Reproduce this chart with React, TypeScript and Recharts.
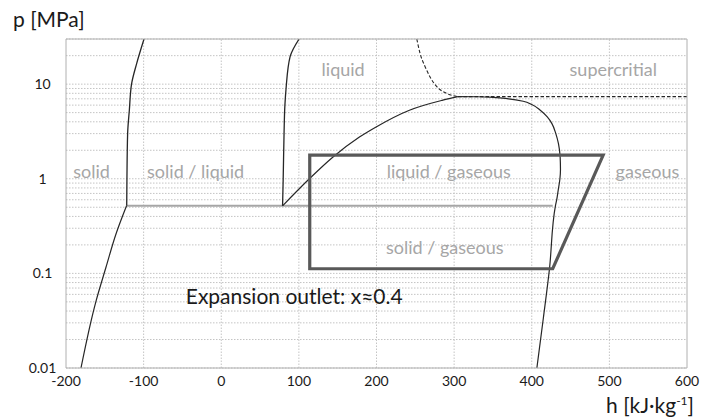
import { LineChart, Line, XAxis, YAxis, CartesianGrid, ReferenceLine, ReferenceDot } from 'recharts'

// h [kJ/kg] vs p [MPa]
const sublimationSolid = [
  { h: -180.7, p: 0.01 },
  { h: -161.3, p: 0.051 },
  { h: -148.5, p: 0.116 },
  { h: -135.6, p: 0.261 },
  { h: -122, p: 0.518 },
]

const meltingSolid = [
  { h: -121.8, p: 0.518 },
  { h: -121.5, p: 1 },
  { h: -120.6, p: 3 },
  { h: -118.4, p: 5.3 },
  { h: -115.4, p: 10.2 },
  { h: -108.9, p: 16.6 },
  { h: -99.5, p: 30 },
]

const meltingLiquid = [
  { h: 79, p: 0.518 },
  { h: 79.8, p: 1 },
  { h: 80.9, p: 3 },
  { h: 82, p: 6 },
  { h: 83.5, p: 9 },
  { h: 88.7, p: 19.5 },
  { h: 100.3, p: 30 },
]

const satLiquid = [
  { h: 79, p: 0.518 },
  { h: 113.5, p: 1.0 },
  { h: 143.6, p: 1.69 },
  { h: 178, p: 2.76 },
  { h: 199.5, p: 3.53 },
  { h: 242.4, p: 5.3 },
  { h: 285.4, p: 6.77 },
  { h: 305, p: 7.38 },
]

const satVapor = [
  { h: 305, p: 7.38 },
  { h: 330, p: 7.36 },
  { h: 350, p: 7.25 },
  { h: 370, p: 7.0 },
  { h: 389, p: 6.6 },
  { h: 400, p: 6.1 },
  { h: 411, p: 5.3 },
  { h: 420, p: 4.5 },
  { h: 426, p: 3.83 },
  { h: 431, p: 3.0 },
  { h: 434.4, p: 2.35 },
  { h: 436.6, p: 1.69 },
  { h: 437, p: 1.25 },
  { h: 436.3, p: 1.0 },
  { h: 434, p: 0.75 },
  { h: 432, p: 0.59 },
  { h: 430.5, p: 0.518 },
  { h: 422.8, p: 0.111 },
  { h: 415, p: 0.034 },
  { h: 406.6, p: 0.01 },
]

const criticalIsotherm = [
  { h: 251.9, p: 30 },
  { h: 256.2, p: 21 },
  { h: 262.6, p: 15.3 },
  { h: 269, p: 11.9 },
  { h: 277.7, p: 9.4 },
  { h: 290.6, p: 7.96 },
  { h: 305, p: 7.38 },
]

const criticalIsobar = [
  { h: 305, p: 7.38 },
  { h: 600, p: 7.38 },
]

const tripleLine = [
  { h: -122, p: 0.518 },
  { h: 427, p: 0.518 },
]

const cycle = [
  { h: 114, p: 1.78 },
  { h: 492, p: 1.78 },
  { h: 427, p: 0.112 },
  { h: 114, p: 0.112 },
]

const regionLabels = [
  { h: -167, p: 1.2, text: 'solid' },
  { h: -33, p: 1.2, text: 'solid / liquid' },
  { h: 157, p: 14.1, text: 'liquid' },
  { h: 505, p: 14.1, text: 'supercritial' },
  { h: 293, p: 1.2, text: 'liquid / gaseous' },
  { h: 549, p: 1.2, text: 'gaseous' },
  { h: 288, p: 0.188, text: 'solid / gaseous' },
]

const xTicks = [
  -200, -180, -160, -140, -120, -100, -80, -60, -40, -20, 0, 20, 40, 60, 80, 100, 120, 140, 160, 180, 200, 220, 240,
  260, 280, 300, 320, 340, 360, 380, 400, 420, 440, 460, 480, 500, 520, 540, 560, 580, 600,
]
const xLabels = [-200, -100, 0, 100, 200, 300, 400, 500, 600]
const xGrid = [-100, 0, 100, 200, 300, 400, 500]
const yTicks = [
  0.01, 0.02, 0.03, 0.04, 0.05, 0.06, 0.07, 0.08, 0.09, 0.1, 0.2, 0.3, 0.4, 0.5, 0.6, 0.7, 0.8, 0.9, 1, 2, 3, 4, 5, 6,
  7, 8, 9, 10, 20, 30,
]
const yLabels = [0.01, 0.1, 1, 10]

const AXIS = '#b0b0b0'
const GRID = '#c4c4c4'
const CURVE = '#262626'
const REGION = '#a6a6a6'

function YTick(props: any) {
  const { x, y, payload } = props
  if (!yLabels.includes(payload.value)) return <g />
  return (
    <text x={x - 23.5} y={y + 5} textAnchor="middle" fontSize={14} fill="#1a1a1a">
      {payload.value}
    </text>
  )
}

export default function App() {
  return (
    <div style={{ position: 'absolute', left: 0, top: 0, width: 705, height: 419, fontFamily: 'Lato', background: '#fff' }}>
      <LineChart width={705} height={419} margin={{ top: 39, right: 18, bottom: 22, left: 0 }}>
        <CartesianGrid vertical={false} stroke={GRID} strokeDasharray="1.5 1.5" />
        {xGrid.map((v) => (
          <ReferenceLine key={v} x={v} stroke={GRID} strokeDasharray="1.5 1.5" />
        ))}
        {/* inward minor ticks on the bottom edge */}
        <XAxis
          xAxisId="bm"
          dataKey="h"
          type="number"
          domain={[-200, 600]}
          ticks={xTicks}
          interval={0}
          allowDataOverflow
          height={1}
          mirror
          tickSize={5}
          stroke={AXIS}
          tickLine={{ stroke: AXIS }}
          tick={false}
        />
        <XAxis
          dataKey="h"
          type="number"
          domain={[-200, 600]}
          ticks={xLabels}
          interval={0}
          allowDataOverflow
          height={29}
          tickSize={0}
          tickMargin={8}
          tickLine={false}
          axisLine={false}
          tick={{ fill: '#1a1a1a', fontSize: 14 }}
        />
        <XAxis
          xAxisId="t"
          dataKey="h"
          orientation="top"
          type="number"
          domain={[-200, 600]}
          ticks={xTicks}
          interval={0}
          allowDataOverflow
          height={1}
          mirror
          tickSize={5}
          stroke={AXIS}
          tickLine={{ stroke: AXIS }}
          tick={false}
        />
        <YAxis
          type="number"
          scale="log"
          domain={[0.01, 30]}
          ticks={yTicks}
          interval={0}
          allowDataOverflow
          width={66}
          tickSize={0}
          tickMargin={0}
          tickLine={false}
          stroke={AXIS}
          tick={<YTick />}
        />
        <YAxis
          yAxisId="r"
          orientation="right"
          type="number"
          scale="log"
          domain={[0.01, 30]}
          ticks={yTicks}
          interval={0}
          allowDataOverflow
          width={1}
          mirror
          tickSize={5}
          stroke={AXIS}
          tickLine={{ stroke: AXIS }}
          tick={false}
        />

        {/* invisible series so the frame axes get their scales */}
        <Line data={tripleLine} dataKey="p" xAxisId="t" yAxisId="r" stroke="none" dot={false} legendType="none" isAnimationActive={false} />
        <Line data={tripleLine} dataKey="p" xAxisId="bm" stroke="none" dot={false} legendType="none" isAnimationActive={false} />

        <Line data={tripleLine} dataKey="p" type="linear" stroke={REGION} strokeWidth={2} dot={false} isAnimationActive={false} />
        <Line data={sublimationSolid} dataKey="p" type="monotoneY" stroke={CURVE} strokeWidth={1.2} dot={false} isAnimationActive={false} />
        <Line data={meltingSolid} dataKey="p" type="monotoneY" stroke={CURVE} strokeWidth={1.3} dot={false} isAnimationActive={false} />
        <Line data={meltingLiquid} dataKey="p" type="monotoneY" stroke={CURVE} strokeWidth={1.3} dot={false} isAnimationActive={false} />
        <Line data={satLiquid} dataKey="p" type="monotone" stroke={CURVE} strokeWidth={1.2} dot={false} isAnimationActive={false} />
        <Line data={satVapor} dataKey="p" type="monotoneY" stroke={CURVE} strokeWidth={1.2} dot={false} isAnimationActive={false} />
        <Line data={criticalIsotherm} dataKey="p" type="monotone" stroke={CURVE} strokeWidth={1.1} strokeDasharray="3.5 2" dot={false} isAnimationActive={false} />
        <Line data={criticalIsobar} dataKey="p" type="linear" stroke={CURVE} strokeWidth={1.1} strokeDasharray="3.5 2" dot={false} isAnimationActive={false} />
        <Line data={cycle} dataKey="p" type="linearClosed" stroke="#595959" strokeWidth={3.2} dot={false} isAnimationActive={false} />

        {regionLabels.map((l) => (
          <ReferenceDot
            key={l.text}
            x={l.h}
            y={l.p}
            r={0}
            fill="none"
            stroke="none"
            label={{ value: l.text, position: 'center', fill: REGION, fontSize: 18 }}
          />
        ))}
        <ReferenceDot
          x={94}
          y={0.0576}
          r={0}
          fill="none"
          stroke="none"
          label={{ value: 'Expansion outlet: x\u22480.4', position: 'center', fill: '#1a1a1a', fontSize: 21 }}
        />
      </LineChart>
      <svg width={705} height={419} style={{ position: 'absolute', left: 0, top: 0, pointerEvents: 'none' }}>
        <text x={13} y={27} fontSize={21} fill="#1a1a1a">
          p [MPa]
        </text>
        <text x={694} y={413} fontSize={21} fill="#1a1a1a" textAnchor="end">
          h [kJ·kg
          <tspan dy={-8} fontSize={12}>
            -1
          </tspan>
          <tspan dy={8}>]</tspan>
        </text>
      </svg>
    </div>
  )
}
